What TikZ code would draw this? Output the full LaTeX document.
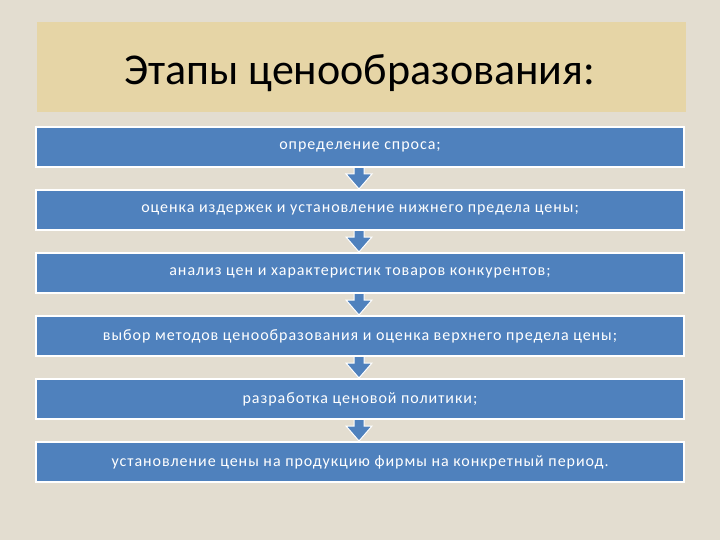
\documentclass[tikz,border=0pt]{standalone}
\usepackage{fontspec}
\setmainfont{Carlito}
\newfontfamily\boxfont{Carlito}[LetterSpace=6]
\usetikzlibrary{calc}
\definecolor{paper}{HTML}{E3DDD0}
\definecolor{band}{HTML}{E6D5A6}
\definecolor{stepblue}{HTML}{4F81BD}
\tikzset{
  stepbox/.style={draw=white, line width=1.5pt, fill=stepblue, minimum width=648pt, minimum height=40pt, inner sep=0pt, text=white, font=\boxfont\fontsize{16}{19}\selectfont},
  blockarrow/.style={draw=white, line width=1pt, fill=stepblue}
}

\begin{document}
\begin{tikzpicture}[x=1pt,y=-1pt]
    %background
    \fill[paper] (0,0) rectangle (720,540);
    \fill[band] (37,22) rectangle (686,112);
    \node[anchor=base west, inner sep=0pt, font=\fontsize{44}{50}\selectfont] (title) at (124,85) {Этапы ценообразования:};

    %arrows first, boxes on top
    \coordinate (a1) at (359,166);
    \coordinate (a2) at (359,229);
    \coordinate (a3) at (359,292);
    \coordinate (a4) at (359,355);
    \coordinate (a5) at (359,418);
    \foreach \i in {1,...,5}
      \draw[blockarrow] ($(a\i)+(-5,-3)$) -- ($(a\i)+(-5,8)$) -- ($(a\i)+(-13,8)$) -- ($(a\i)+(0,23)$) -- ($(a\i)+(13,8)$) -- ($(a\i)+(5,8)$) -- ($(a\i)+(5,-3)$);

    %stages
    \node[stepbox] (s1) at (360,147) {определение спроса;};
    \node[stepbox] (s2) at (360,210) {оценка издержек и установление нижнего предела цены;};
    \node[stepbox] (s3) at (360,273) {анализ цен и характеристик товаров конкурентов;};
    \node[stepbox] (s4) at (360,336) {выбор методов ценообразования и оценка верхнего предела цены;};
    \node[stepbox] (s5) at (360,399) {разработка ценовой политики;};
    \node[stepbox] (s6) at (360,462) {установление цены на продукцию фирмы на конкретный период.};
\end{tikzpicture}
\end{document}
